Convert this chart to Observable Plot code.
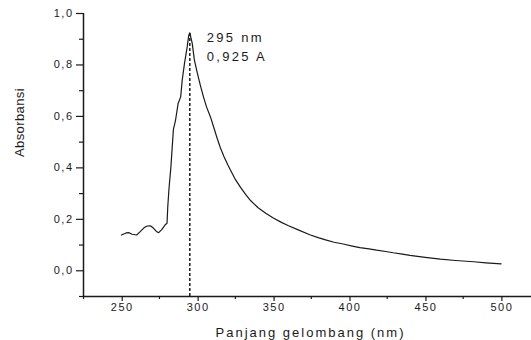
<!DOCTYPE html>
<html>
<head>
<meta charset="utf-8">
<script src="https://cdn.jsdelivr.net/npm/d3@7"></script>
<script src="https://cdn.jsdelivr.net/npm/@observablehq/plot@0.6"></script>
<style>
  html, body { margin: 0; padding: 0; background: #fff; }
  #chart { width: 531px; height: 340px; }
</style>
</head>
<body>
<div id="chart"></div>
<script>
// Wavelength (nm) and absorbance
const wavelength = [250,253,255,257,260,262,265,267,269,271,273,274.5,276.5,279,280,280.5,281.3,282.5,283.3,284.2,285.6,287.3,289,290,291.5,293.3,294.3,295,296.6,298,300,302,304,306,308.6,311,313,315,317.4,320,322,325,328.4,332,335,340,345,350,355,360,366,374,380,385,390,396,402,407,413,418,424,429,435,440,450,460,470,482,490,500];
const absorbance = [0.139,0.147,0.148,0.142,0.139,0.150,0.168,0.174,0.175,0.166,0.153,0.148,0.160,0.180,0.185,0.25,0.32,0.40,0.47,0.55,0.585,0.65,0.676,0.741,0.806,0.871,0.915,0.925,0.884,0.82,0.767,0.72,0.676,0.637,0.598,0.553,0.515,0.48,0.445,0.412,0.389,0.355,0.324,0.295,0.273,0.245,0.224,0.205,0.189,0.175,0.160,0.140,0.128,0.119,0.111,0.104,0.096,0.090,0.085,0.080,0.075,0.070,0.065,0.060,0.052,0.045,0.040,0.035,0.031,0.027];

const peakWavelength = 295;
const peakAbsorbance = 0.925;
const peakLabel = "295 nm\n0,925 A";

const xMajorTicks = [250, 300, 350, 400, 450, 500];
const xMinorTicks = [225, 275, 325, 375, 425, 475];
const yMajorTicks = [0.0, 0.2, 0.4, 0.6, 0.8, 1.0];
const yMinorTicks = [-0.1, 0.1, 0.3, 0.5, 0.7, 0.9];

const xDomain = [225, 520];
const yDomain = [-0.1, 1.0];

const xTitle = "Panjang gelombang (nm)";
const yTitle = "Absorbansi";

const data = wavelength.map((w, i) => ({w, a: absorbance[i]}));
const fmt = d => d.toFixed(1).replace(".", ",");
const ink = "#1a1a1a";

const chart = Plot.plot({
  width: 531,
  height: 340,
  marginLeft: 83,
  marginRight: 0,
  marginTop: 13,
  marginBottom: 44,
  style: {fontFamily: "'Liberation Sans', Arial, sans-serif", fontSize: "11px", color: ink, background: "#fff"},
  x: {domain: xDomain},
  y: {domain: yDomain},
  marks: [
    Plot.axisY(yMajorTicks, {tickSize: 7, tickPadding: 3, tickFormat: fmt, label: null, strokeWidth: 1.2, fontSize: 11}),
    Plot.axisY(yMinorTicks, {tickSize: 4, tickPadding: 0, tickFormat: () => "", label: null, strokeWidth: 1.2}),
    Plot.axisX(xMajorTicks, {tickSize: 5, tickPadding: 1.5, tickFormat: d => String(d), label: null, strokeWidth: 1.2, fontSize: 11, dx: 0.75}),
    Plot.axisX(xMinorTicks, {tickSize: 3, tickPadding: 0, tickFormat: () => "", label: null, strokeWidth: 1.2}),
    Plot.ruleX([xDomain[0]], {stroke: ink, strokeWidth: 1.5}),
    Plot.ruleY([yDomain[0]], {stroke: ink, strokeWidth: 1.5}),
    Plot.ruleX([peakWavelength], {y1: yDomain[0], y2: peakAbsorbance, stroke: ink, strokeWidth: 1.5, strokeDasharray: "3,2"}),
    Plot.line(data, {x: "w", y: "a", stroke: ink, strokeWidth: 1.2}),
    Plot.text([peakLabel], {x: peakWavelength, y: peakAbsorbance, text: d => d, textAnchor: "start", lineAnchor: "top", lineHeight: 1.46, dx: 17, dy: -4, fontSize: 13, fill: ink}),
    Plot.text([xTitle], {frameAnchor: "bottom", text: d => d, dy: 31, dx: 3, lineAnchor: "top", fontSize: 13, fill: ink}),
    Plot.text([yTitle], {frameAnchor: "left", text: d => d, rotate: -90, dx: -64, dy: 2, fontSize: 13, fill: ink})
  ]
});

// letter spacing per text, matched by content
const spacing = new Map();
yMajorTicks.forEach(t => spacing.set(fmt(t), "1.5px"));
xMajorTicks.forEach(t => spacing.set(String(t), "1.5px"));
peakLabel.split("\n").forEach(t => spacing.set(t, "2.3px"));
spacing.set(peakLabel.replace("\n", ""), "2.3px");
spacing.set(xTitle, "2px");
spacing.set(yTitle, "0.4px");
d3.select(chart).selectAll("text").each(function() {
  const s = spacing.get(this.textContent);
  if (s) this.setAttribute("letter-spacing", s);
  d3.select(this).selectAll("tspan").each(function() {
    const t = spacing.get(this.textContent);
    if (t) this.setAttribute("letter-spacing", t);
  });
});

document.getElementById("chart").appendChild(chart);
</script>
</body>
</html>
